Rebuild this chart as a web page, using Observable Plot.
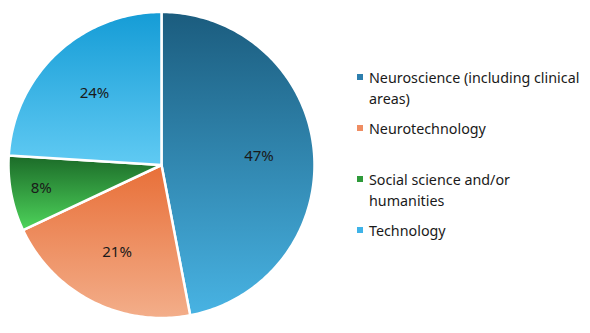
<!DOCTYPE html>
<html>
<head>
<meta charset="utf-8">
<script src="https://cdn.jsdelivr.net/npm/d3@7"></script>
<script src="https://cdn.jsdelivr.net/npm/@observablehq/plot@0.6"></script>
<style>
  html, body { margin: 0; padding: 0; background: #fff; }
  #wrap { position: relative; width: 590px; height: 333px; font-family: "Noto Sans", sans-serif; }
  #chart { position: absolute; left: 0; top: 0; }
  #legend { position: absolute; left: 354px; top: 66.5px; }
  .item { position: relative; height: 51px; }
  .sw { position: absolute; left: 3px; top: 7.5px; width: 6px; height: 6px; }
  .lab { position: absolute; left: 15px; top: 0; font-size: 14.3px; line-height: 21px; color: #1a1a1a; white-space: pre; }
</style>
</head>
<body>
<div id="wrap"><div id="chart"></div><div id="legend"></div></div>
<script>
// ---- data ----
const categories = ["Neuroscience (including clinical areas)", "Neurotechnology", "Social science and/or humanities", "Technology"];
const legendLines = ["Neuroscience (including clinical\nareas)", "Neurotechnology", "Social science and/or\nhumanities", "Technology"];
const shares = [47, 21, 8, 24];

// ---- styles ----
const topColors = ["#1b5c7e", "#e86f38", "#1b6a28", "#159cd6"];
const bottomColors = ["#48b3e3", "#f3ae8a", "#4ed45b", "#60caf3"];
const swatchColors = ["#2d7fae", "#ef8d62", "#2e9a3a", "#3fb3e8"];

const total = d3.sum(shares);
const pie = d3.pie().sort(null).value(d => d)(shares);

// polygon outline of each slice in unit coordinates (y up)
const slices = pie.map((p, i) => {
  const n = Math.max(2, Math.ceil((p.endAngle - p.startAngle) / (Math.PI / 180)));
  const pts = [{x: 0, y: 0}];
  for (let k = 0; k <= n; k++) {
    const a = p.startAngle + (p.endAngle - p.startAngle) * k / n;
    pts.push({x: Math.sin(a), y: Math.cos(a)});
  }
  return pts;
});

const labels = pie.map((p, i) => {
  const a = (p.startAngle + p.endAngle) / 2;
  const r = shares[i] / total < 0.1 ? 0.8 : 0.64;
  return {x: r * Math.sin(a), y: r * Math.cos(a), text: `${Math.round(shares[i] / total * 100)}%`};
});

function gradients() {
  const defs = d3.create("svg:defs");
  topColors.forEach((c, i) => {
    const g = defs.append("linearGradient").attr("id", "g" + i)
      .attr("x1", 0).attr("y1", 0).attr("x2", 0).attr("y2", 1);
    g.append("stop").attr("offset", "0%").attr("stop-color", c);
    g.append("stop").attr("offset", "100%").attr("stop-color", bottomColors[i]);
  });
  return defs.node();
}

const chart = Plot.plot({
  width: 330,
  height: 333,
  marginLeft: 8,
  marginRight: 16,
  marginTop: 11.5,
  marginBottom: 15.5,
  x: {domain: [-1, 1], axis: null},
  y: {domain: [-1, 1], axis: null},
  style: {fontFamily: "Noto Sans, sans-serif", background: "white", overflow: "visible"},
  marks: [
    gradients,
    ...slices.map((pts, i) => Plot.line(pts, {
      x: "x", y: "y", curve: "linear-closed",
      fill: `url(#g${i})`, stroke: "white", strokeWidth: 2.5, strokeLinejoin: "round"
    })),
    Plot.text(labels, {x: "x", y: "y", text: "text", fontSize: 15, fill: "#1a1a1a"})
  ]
});
document.getElementById("chart").append(chart);

const legend = d3.select("#legend");
categories.forEach((c, i) => {
  const it = legend.append("div").attr("class", "item").attr("title", c);
  it.append("div").attr("class", "sw").style("background", swatchColors[i]);
  it.append("div").attr("class", "lab").text(legendLines[i]);
});
</script>
</body>
</html>
